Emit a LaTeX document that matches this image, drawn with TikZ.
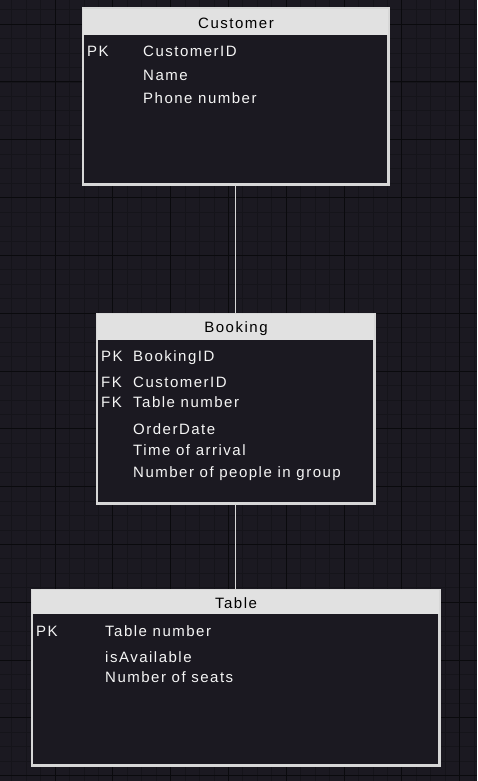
\documentclass[tikz,border=0pt]{standalone}
\usepackage{fontspec}
\setmainfont{Liberation Sans}[LetterSpace=10]
\definecolor{bgc}{RGB}{27,25,33}
\definecolor{gridminor}{RGB}{21,20,26}
\definecolor{gridmajor}{RGB}{10,10,13}
\definecolor{boxline}{RGB}{215,215,215}
\definecolor{headfill}{RGB}{225,225,225}
\definecolor{txt}{RGB}{245,245,245}
\tikzset{
  entity/.style={draw=boxline, line width=1.5pt, fill=bgc, inner sep=0pt},
  header/.style={fill=headfill},
  headtxt/.style={inner sep=0pt, anchor=base, text=black, font=\fontsize{15}{17}\selectfont},
  field/.style={inner sep=0pt, anchor=base west, text=txt, font=\fontsize{15}{17}\selectfont},
  conn/.style={draw=boxline, line width=1.2pt}
}
\begin{document}
\begin{tikzpicture}[x=1pt,y=-1pt]
\useasboundingbox (0,0) rectangle (477,781);
\fill[bgc] (0,0) rectangle (477,781);
\begin{scope}
\clip (0,0) rectangle (477,781);
\foreach \i in {-1,...,33} {
  \draw[gridminor, line width=0.8pt] ({11.65+14.45*\i},0) -- ({11.65+14.45*\i},781);
}
\foreach \i in {-1,...,54} {
  \draw[gridminor, line width=0.8pt] (0,{9.75+14.45*\i}) -- (477,{9.75+14.45*\i});
}
\foreach \i in {0,...,9} {
  \draw[gridmajor, line width=1pt] ({-2.8+57.8*\i},0) -- ({-2.8+57.8*\i},781);
}
\foreach \i in {-1,...,14} {
  \draw[gridmajor, line width=1pt] (0,{24.2+57.8*\i}) -- (477,{24.2+57.8*\i});
}
\end{scope}

% entities and connectors
\node[entity, minimum width=305pt, minimum height=175pt] (cust) at (235.5,96.5) {};
\node[entity, minimum width=277pt, minimum height=189pt] (book) at (235.5,408.5) {};
\node[entity, minimum width=407pt, minimum height=175pt] (tab) at (235.5,677.5) {};
\draw[conn] (cust.south) -- (book.north);
\draw[conn] (book.south) -- (tab.north);

% headers
\fill[header] (cust.north west) rectangle ([yshift=-27pt]cust.north east);
\fill[header] (book.north west) rectangle ([yshift=-27pt]book.north east);
\fill[header] (tab.north west) rectangle ([yshift=-25pt]tab.north east);
\draw[boxline, line width=1.5pt] (cust.north west) rectangle (cust.south east);
\draw[boxline, line width=1.5pt] (book.north west) rectangle (book.south east);
\draw[boxline, line width=1.5pt] (tab.north west) rectangle (tab.south east);

% Customer
\node[headtxt] (custh) at (236,29) {Customer};
\node[field] (c1k) at (87,56.5) {PK};
\node[field] (c1) at (143,56.5) {CustomerID};
\node[field] (c2) at (143,81) {Name};
\node[field] (c3) at (143,104) {Phone number};

% Booking
\node[headtxt] (bookh) at (236,332) {Booking};
\node[field] (b1k) at (101,361) {PK};
\node[field] (b1) at (133,361) {BookingID};
\node[field] (b2k) at (101,387) {FK};
\node[field] (b2) at (133,387) {CustomerID};
\node[field] (b3k) at (101,407) {FK};
\node[field] (b3) at (133,407) {Table number};
\node[field] (b4) at (133,434) {OrderDate};
\node[field] (b5) at (133,455) {Time of arrival};
\node[field] (b6) at (133,477) {Number of people in group};

% Table
\node[headtxt] (tabh) at (236,608) {Table};
\node[field] (t1k) at (36,636) {PK};
\node[field] (t1) at (105,636) {Table number};
\node[field] (t2) at (105,662) {isAvailable};
\node[field] (t3) at (105,682) {Number of seats};
\end{tikzpicture}
\end{document}
